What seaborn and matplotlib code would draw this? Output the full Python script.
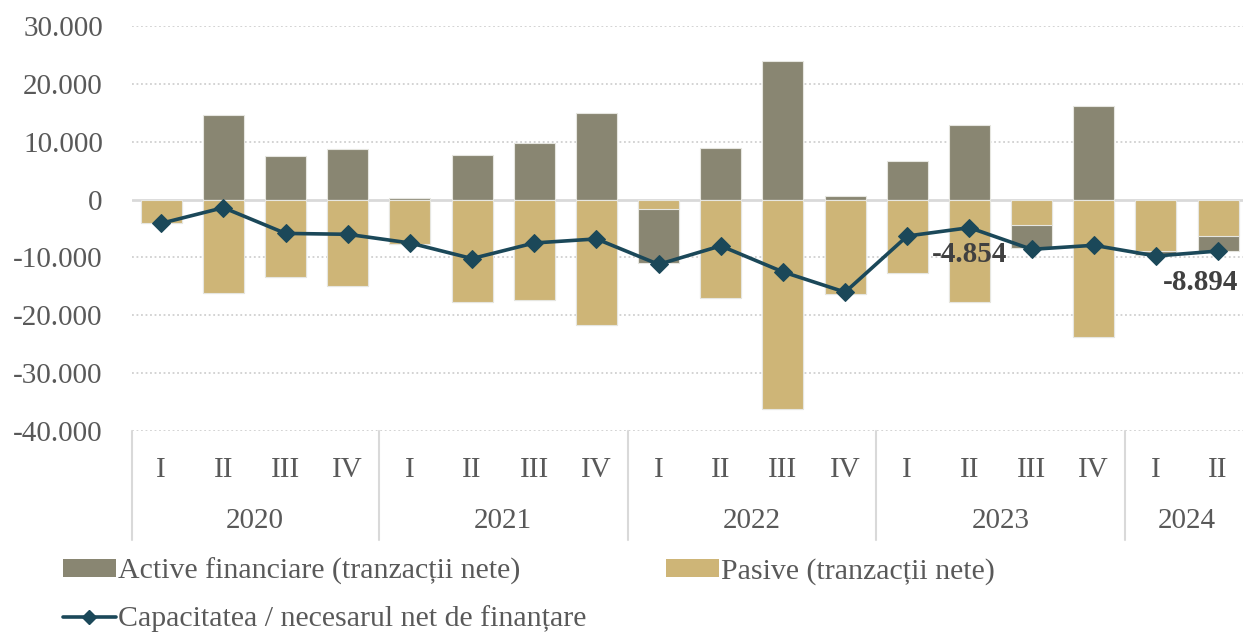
import numpy as np
import pandas as pd
import matplotlib
matplotlib.use("Agg")
import matplotlib.pyplot as plt
from matplotlib.ticker import FuncFormatter
from matplotlib.transforms import blended_transform_factory
from matplotlib.patches import Patch
from matplotlib.lines import Line2D
import seaborn as sns

years = ["2020", "2021", "2022", "2023", "2024"]
quarters_per_year = [4, 4, 4, 4, 2]
quarter_names = ["I", "II", "III", "IV"]

active = [-100, 14700, 7600, 8800,
          200, 7700, 9800, 15000,
          -9300, 9000, 23900, 550,
          6600, 12900, -4050, 16100,
          -700, -2550]
pasive = [-4000, -16100, -13400, -15000,
          -7600, -17700, -17300, -21700,
          -1700, -17000, -36200, -16400,
          -12700, -17750, -4350, -23800,
          -8900, -6300]
net = [-4100, -1400, -5850, -6000,
       -7500, -10200, -7500, -6800,
       -11200, -8000, -12500, -16000,
       -6300, -4854, -8600, -7900,
       -9750, -8894]
labelled = {13: "-4.854", 17: "-8.894"}

C_ACT = "#898672"
C_PAS = "#CEB577"
C_LINE = "#1B4859"
C_TXT = "#595959"

sns.set_theme(style="white")
plt.rcParams["font.family"] = ["Liberation Serif", "DejaVu Serif"]

cats, qlabels = [], []
for y, n in zip(years, quarters_per_year):
    for q in quarter_names[:n]:
        cats.append(f"{y} {q}")
        qlabels.append(q)

act = np.array(active, dtype=float)
pas = np.array(pasive, dtype=float)
df = pd.DataFrame({
    "cat": cats,
    "act_pos": np.maximum(act, 0),
    "neg_total": pas + np.minimum(act, 0),
    "pas": pas,
    "net": net,
    "idx": np.arange(len(cats)),
})

fig = plt.figure(figsize=(12.43, 6.34), dpi=100)
ax = fig.add_axes([132 / 1243, 1 - 431 / 634, 1 - 132 / 1243, (431 - 26) / 634])

bw = 0.66
ekw = dict(edgecolor="#e6e6e0", linewidth=0.8, width=bw, saturation=1, order=cats)
sns.barplot(data=df, x="cat", y="act_pos", color=C_ACT, ax=ax, zorder=2, **ekw)
sns.barplot(data=df, x="cat", y="neg_total", color=C_ACT, ax=ax, zorder=2, **ekw)
sns.barplot(data=df, x="cat", y="pas", color=C_PAS, ax=ax, zorder=3, **ekw)

sns.lineplot(data=df, x="idx", y="net", ax=ax, color=C_LINE, linewidth=2.6,
             marker="D", markersize=9, markeredgecolor=C_LINE, zorder=5)

offsets = {13: (0.0, -4600), 17: (-0.28, -5400)}
for i, t in labelled.items():
    dx, dy = offsets[i]
    ax.text(i + dx, net[i] + dy, t, ha="center", va="center", fontsize=21,
            fontweight="bold", color="#404040", zorder=6)

ax.set_ylim(-40000, 30000)
ax.set_xlim(-0.47, 17.4)
ax.set_yticks(np.arange(-40000, 30001, 10000))
ax.yaxis.set_major_formatter(FuncFormatter(lambda v, p: f"{int(v):,}".replace(",", ".")))
for v in np.arange(-40000, 30001, 10000):
    if v == 0:
        ax.axhline(0, color="#d9d9d9", linewidth=2, zorder=1)
    else:
        ax.axhline(v, color="#d0d0d0", linewidth=1.3, linestyle=(0, (1, 1.5)), zorder=1)

ax.set_xticks(range(len(cats)))
ax.set_xticklabels(qlabels)
ax.tick_params(axis="x", length=0, pad=19, labelsize=21, labelcolor=C_TXT)
ax.tick_params(axis="y", length=0, pad=21, labelsize=21, labelcolor=C_TXT)
ax.set_xlabel("")
ax.set_ylabel("")
for s in ax.spines.values():
    s.set_visible(False)

trans = blended_transform_factory(ax.transData, ax.transAxes)
h_ax = 405.0
start = 0
bounds = [-0.47]
for y, n in zip(years, quarters_per_year):
    center = start + (n - 1) / 2
    ax.text(center, -(521 - 431) / h_ax, y, transform=trans, ha="center", va="center",
            fontsize=21, color=C_TXT)
    start += n
    bounds.append(start - 0.5)
for b in bounds[:-1]:
    ax.plot([b, b], [0, -(540 - 431) / h_ax], transform=trans, color="#d9d9d9",
            linewidth=1.5, clip_on=False)

handles = [Patch(facecolor=C_ACT, edgecolor="none"),
           Line2D([0], [0], color=C_LINE, linewidth=2.6, marker="D", markersize=7),
           Patch(facecolor=C_PAS, edgecolor="none")]
labels = ["Active financiare (tranzacții nete)",
          "Capacitatea / necesarul net de finanțare",
          "Pasive (tranzacții nete)"]
leg = fig.legend(handles, labels, ncol=2, loc="upper left", bbox_to_anchor=(36 / 1243, 1 - 531 / 634),
                 frameon=False, fontsize=21.5, handlelength=1.78, handleheight=0.54,
                 handletextpad=0.07, columnspacing=2.65, labelspacing=0.68)
for t in leg.get_texts():
    t.set_color(C_TXT)

fig.savefig("out.png", dpi=100)
